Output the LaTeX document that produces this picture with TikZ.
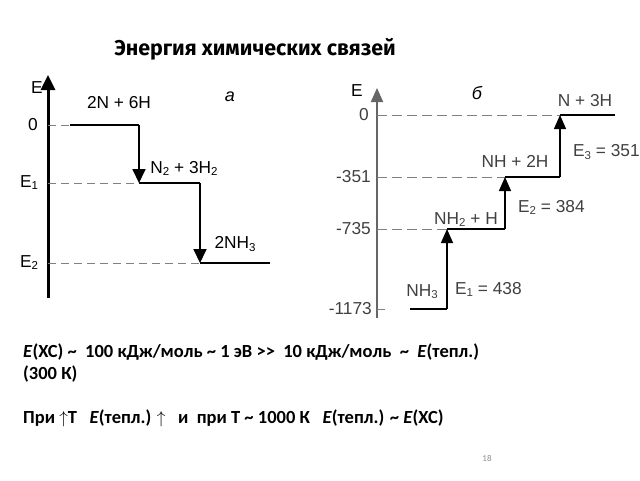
\documentclass[tikz,border=0pt]{standalone}
\usepackage{fontspec}
\setmainfont{Carlito}
\newfontfamily\lblfont{Liberation Sans}
\newfontfamily\ttlfont{Fira Sans}
\usetikzlibrary{arrows.meta}
\newcommand{\ix}[1]{\raisebox{-0.12em}{\fontsize{11.5}{11.5}\selectfont #1}}
\begin{document}
\begin{tikzpicture}[x=1pt,y=-1pt,
  lbl/.style={font=\lblfont\fontsize{17.3}{17.3}\selectfont,inner sep=0pt},
  rlbl/.style={lbl,text=black!75},
  guide/.style={gray,line width=0.8pt,dash pattern=on 8pt off 5pt},
  level/.style={line width=2pt},
  jump/.style={line width=1.8pt,-{Triangle[width=13pt,length=14pt]}},
  up/.style={line width=1.3pt,-{Triangle[width=12pt,length=14pt]}},
  txt/.style={font=\bfseries\fontsize{18.5}{20}\selectfont,inner sep=0pt,anchor=west}]
\fill[white] (0,0) rectangle (640,480);
\useasboundingbox (0,0) rectangle (640,480);
% title
\node[font=\ttlfont\bfseries\fontsize{21.4}{21.4}\selectfont] (title) at (255,49) {Энергия химических связей};
% a
\coordinate (Lbot) at (48,298);
\coordinate (Ltop) at (48,75);
\draw[line width=3pt,-{Triangle[width=14pt,length=15pt]}] (Lbot) -- (Ltop);
\coordinate (a0s) at (70,125);
\coordinate (a0e) at (139,125);
\coordinate (a1s) at (139,183);
\coordinate (a1e) at (200,183);
\coordinate (a2s) at (200,263);
\coordinate (a2e) at (270,263);
\draw[guide] (Lbot |- a0s) -- (a0s);
\draw[guide] (Lbot |- a1s) -- (a1s);
\draw[guide] (Lbot |- a2s) -- (a2s);
\draw[level] (a0s) -- (a0e);
\draw[jump] (a0e) -- (a1s);
\draw[level] (a1s) -- (a1e);
\draw[jump] (a1e) -- (a2s);
\draw[level] (a2s) -- (a2e);
\node[lbl] (eA) at (37,88) {E};
\node[lbl] (zA) at (33,125) {0};
\node[lbl] (e1A) at (29,183) {E\ix{1}};
\node[lbl] (e2A) at (29,263) {E\ix{2}};
\node[lbl] (s0A) at (119,103) {2N + 6H};
\node[lbl,font=\lblfont\itshape\fontsize{18}{18}\selectfont] (capA) at (230,97) {а};
\node[lbl] (s1A) at (184,168) {N\ix{2} + 3H\ix{2}};
\node[lbl] (s2A) at (235,244) {2NH\ix{3}};
% б
\coordinate (Rbot) at (377,318);
\coordinate (Rtop) at (377,88);
\draw[black!60,line width=2pt,-{Triangle[width=12pt,length=14pt]}] (Rbot) -- (Rtop);
\coordinate (b0g) at (390,309);
\coordinate (b0s) at (410,309);
\coordinate (b0e) at (447,309);
\coordinate (b1s) at (447,229);
\coordinate (b1e) at (505,229);
\coordinate (b2s) at (505,177);
\coordinate (b2e) at (560,177);
\coordinate (b3s) at (560,115);
\coordinate (b3e) at (615,115);
\draw[guide] (Rbot |- b0g) -- (b0g);
\draw[guide,dash pattern=on 10pt off 5pt] (Rbot |- b1s) -- (b1s);
\draw[guide,dash pattern=on 10pt off 5pt] (Rbot |- b2s) -- (b2s);
\draw[guide,dash pattern=on 10pt off 5pt] (Rbot |- b3s) -- (b3s);
\draw[level] (b0s) -- (b0e);
\draw[up] (b0e) -- (b1s);
\draw[level,line width=2.5pt] (b1s) -- (b1e);
\draw[up] (b1e) -- (b2s);
\draw[level,line width=2.5pt] (b2s) -- (b2e);
\draw[up] (b2e) -- (b3s);
\draw[level,line width=2.5pt] (b3s) -- (b3e);
\node[lbl] (eB) at (357,91) {E};
\node[lbl,font=\lblfont\itshape\fontsize{18}{18}\selectfont] (capB) at (477,93) {б};
\node[rlbl,anchor=east] (zB) at (369,115) {0};
\node[rlbl,anchor=east] (m351) at (371,177) {-351};
\node[rlbl,anchor=east] (m735) at (371,229) {-735};
\node[rlbl,anchor=east] (m1173) at (372,309) {-1173};
\node[rlbl] (s3B) at (585,101) {N + 3H};
\node[rlbl] (s2B) at (515,161) {NH + 2H};
\node[rlbl] (s1B) at (466,220) {NH\ix{2} + H};
\node[rlbl] (s0B) at (422,292) {NH\ix{3}};
\node[rlbl,anchor=west] (d3) at (573,152) {E\ix{3} = 351};
\node[rlbl,anchor=west] (d2) at (518,207) {E\ix{2} = 384};
\node[rlbl,anchor=west] (d1) at (455,289) {E\ix{1} = 438};
% text
\node[txt] (line1) at (23,352) {\textit{E}(ХС) \textasciitilde{}\ \ 100 кДж/моль \textasciitilde{} 1 эВ >{}>\ \ 10 кДж/моль\ \ \textasciitilde{}\ \ \textit{E}(тепл.)};
\node[txt] (line2) at (23,374) {(300 К)};
\node[txt] (line3) at (23,418) {При $\uparrow$Т\ \ \ \textit{E}(тепл.) $\uparrow$\ \ \ и\ \ при Т \textasciitilde{} 1000 К\ \ \ \textit{E}(тепл.) \textasciitilde{} \textit{E}(ХС)};
\node[font=\fontsize{9}{9}\selectfont,text=black!45] (pg) at (487,458) {18};
\end{tikzpicture}
\end{document}
